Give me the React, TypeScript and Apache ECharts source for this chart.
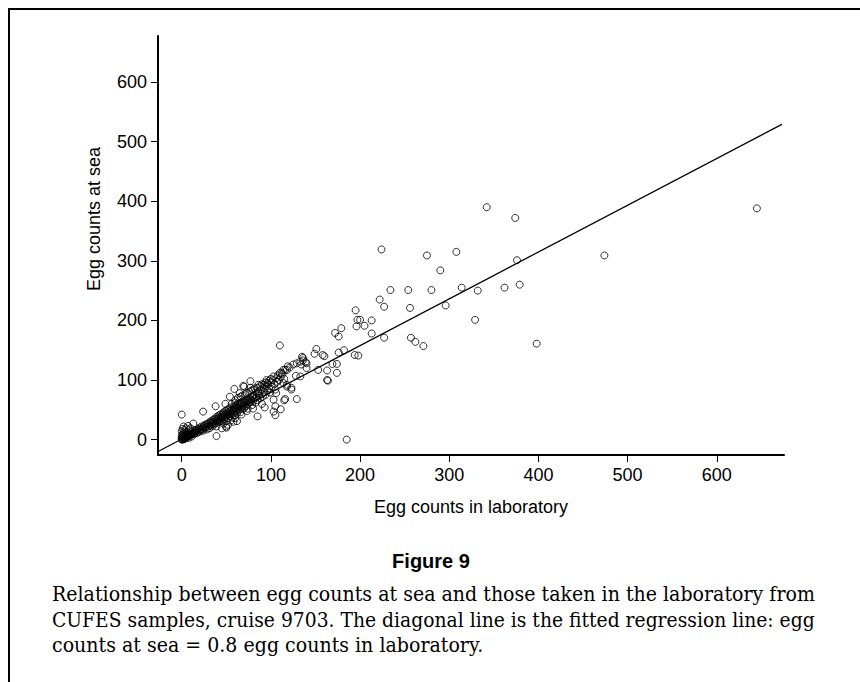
import React, { useEffect, useRef } from "react";
import * as echarts from "echarts";

// ---- data ----
const xTicks = [0, 100, 200, 300, 400, 500, 600];
const yTicks = [0, 100, 200, 300, 400, 500, 600];
const xAxisTitle = "Egg counts in laboratory";
const yAxisTitle = "Egg counts at sea";
const figureLabel = "Figure 9";
const captionLines = [
  "Relationship between egg counts at sea and those taken in the laboratory from",
  "CUFES samples, cruise 9703. The diagonal line is the fitted regression line: egg",
  "counts at sea = 0.8 egg counts in laboratory.",
];

// [lab count, sea count]
const farPoints: number[][] = [
  [645, 388], [474, 309], [398, 161], [342, 390], [374, 372], [376, 301], [379, 260],
  [362, 255], [332, 250], [329, 201], [314, 255], [308, 315], [296, 225], [290, 284],
  [280, 251], [275, 309], [271, 157], [262, 164], [257, 171], [256, 221], [254, 251],
  [234, 251], [227, 223], [227, 171], [224, 319], [222, 235], [213, 200], [213, 178],
  [205, 191], [200, 201], [198, 141], [197, 201], [196, 190], [195, 217], [194, 142],
  [185, 0],
];

const midPoints: number[][] = [
  [182, 150], [179, 187], [176, 173], [176, 146], [174, 127], [174, 112], [172, 179],
  [169, 127], [164, 99], [163, 116], [163, 100], [160, 140], [158, 142], [153, 117],
  [151, 152], [149, 144], [140, 128], [140, 120], [139, 130], [136, 133], [136, 137],
  [135, 139], [134, 126], [133, 106], [133, 131], [129, 128], [129, 68], [128, 107],
  [125, 126], [123, 87], [123, 84], [121, 121], [119, 123], [118, 92], [118, 117],
  [118, 89], [116, 117], [116, 68], [115, 66], [114, 95], [114, 117], [112, 112],
  [111, 51], [110, 158], [110, 112], [106, 78], [105, 84], [105, 56], [105, 41],
  [103, 106], [103, 67], [103, 47], [95, 100], [93, 54], [86, 92], [86, 78], [85, 39],
  [80, 73], [77, 98], [77, 87], [73, 67], [70, 89], [69, 90], [65, 78], [65, 61],
  [62, 31], [60, 66], [59, 85], [54, 72], [52, 25], [50, 22], [50, 20], [49, 60],
  [45, 19], [39, 22], [39, 6], [38, 56], [24, 47], [0, 42], [2, 22], [7, 23], [13, 27],
];

const upperBandPoints: number[][] = [
  [56, 60], [60, 62], [63, 70], [66, 72], [68, 74], [71, 76], [73, 78], [76, 80],
  [78, 82], [80, 84], [82, 86], [85, 87], [88, 90], [90, 93], [92, 92], [94, 96],
  [96, 95], [98, 99], [100, 102], [60, 36], [67, 42], [73, 48], [80, 52], [90, 60],
];

const densePoints: number[][] = [
  [0, 0], [0, 1], [1, 0], [1, 2], [2, 1], [0, 3], [2, 3], [3, 1], [3, 4], [1, 5], [4, 2],
  [4, 5], [5, 3], [2, 6], [5, 6], [6, 4], [0, 7], [6, 8], [7, 5], [3, 8], [7, 9], [8, 6],
  [8, 3], [1, 9], [9, 7], [9, 10], [10, 8], [4, 11], [10, 12], [11, 9], [2, 12], [11, 5],
  [12, 10], [6, 13], [12, 14], [13, 11], [0, 14], [14, 9], [14, 13], [3, 16], [15, 12],
  [8, 16], [15, 16], [16, 14], [1, 18], [17, 11], [17, 15], [5, 19], [18, 17], [10, 19],
  [19, 13], [19, 18],
  [20, 16], [20, 20], [21, 14], [22, 18], [22, 22], [23, 17], [24, 20], [24, 15], [25, 23],
  [26, 19], [26, 25], [27, 21], [28, 17], [28, 24], [29, 27], [30, 22], [30, 26], [31, 19],
  [31, 29], [32, 24], [33, 28], [33, 31], [34, 22], [34, 26], [35, 30], [35, 33], [36, 25],
  [36, 28], [37, 35], [38, 31], [38, 27], [39, 33], [39, 38], [40, 29], [40, 35], [41, 32],
  [41, 40], [42, 37], [42, 30], [43, 34], [43, 42], [44, 38], [44, 31], [45, 41], [45, 36],
  [46, 44], [46, 33], [47, 39], [47, 46], [47, 27], [48, 35], [48, 42], [49, 38], [49, 48],
  [50, 44], [50, 31], [51, 41], [51, 50], [52, 36], [52, 46], [53, 43], [53, 52], [54, 39],
  [54, 48], [55, 45], [55, 54], [55, 32], [56, 42], [56, 50], [57, 47], [57, 37], [58, 52],
  [58, 44], [58, 30], [59, 56], [59, 49], [60, 41], [60, 53], [61, 58], [61, 47], [62, 51],
  [62, 44], [63, 55], [63, 60], [64, 49], [64, 53], [65, 57], [66, 46], [66, 62], [67, 54],
  [67, 59], [68, 51], [69, 64], [69, 57], [70, 53], [70, 61], [71, 66], [72, 56], [72, 63],
  [73, 59], [74, 68], [74, 52], [75, 62], [75, 65],
  [76, 70], [77, 63], [78, 67], [79, 72], [79, 58], [80, 65], [81, 75], [82, 69], [83, 62],
  [84, 78], [84, 71], [85, 66], [86, 81], [87, 74], [88, 69], [89, 84], [90, 77], [91, 72],
  [92, 87], [93, 80], [94, 75], [95, 90], [96, 83], [97, 93], [98, 86], [99, 79], [100, 96],
  [101, 89], [102, 100], [104, 93], [106, 103], [107, 97], [108, 108], [109, 100],
  [111, 105], [113, 110], [115, 102],
];

// fitted regression line end points [lab, sea]
const fitLab = [-26, 673];
const fitSea = [-19.5, 529];

function measure(text: string, font: string): number {
  const ctx = document.createElement("canvas").getContext("2d");
  if (!ctx) return 1;
  ctx.font = font;
  return ctx.measureText(text).width;
}

export default function App() {
  const ref = useRef<HTMLDivElement>(null);

  useEffect(() => {
    if (!ref.current) return;
    const chart = echarts.init(ref.current, undefined, { renderer: "svg" });

    const captionFont = '20px "DejaVu Serif"';
    const captionWidth = 763;
    const s1 = captionWidth / measure(captionLines[0], captionFont);
    const s2 = captionWidth / measure(captionLines[1], captionFont);
    const scales = [s1, s2, s1];
    const captionY = [594.5, 620, 645.5];

    const points = [...densePoints, ...upperBandPoints, ...midPoints, ...farPoints];
    const fitData = fitLab.map((x, i) => [x, fitSea[i]]);

    const sans = '"Liberation Sans", Arial, sans-serif';

    chart.setOption({
      animation: false,
      backgroundColor: "#fff",
      grid: { left: 158, top: 36, right: 76, bottom: 227, containLabel: false },
      xAxis: {
        type: "value",
        min: -26.6,
        max: 675.4,
        axisLine: { show: true, onZero: false, lineStyle: { color: "#000", width: 2 } },
        axisTick: { show: true, length: 7, customValues: xTicks, lineStyle: { color: "#000", width: 1 } },
        axisLabel: {
          customValues: xTicks,
          color: "#000",
          fontSize: 18,
          fontFamily: sans,
          margin: 11,
          formatter: (v: number) => (v % 100 === 0 ? String(v) : ""),
        },
        splitLine: { show: false },
      },
      yAxis: {
        type: "value",
        min: -25.8,
        max: 677.2,
        axisLine: { show: true, onZero: false, lineStyle: { color: "#000", width: 2 } },
        axisTick: { show: true, length: 7, customValues: yTicks, lineStyle: { color: "#000", width: 1 } },
        axisLabel: {
          customValues: yTicks,
          color: "#000",
          fontSize: 18,
          fontFamily: sans,
          margin: 11,
          formatter: (v: number) => (v % 100 === 0 ? String(v) : ""),
        },
        splitLine: { show: false },
      },
      series: [
        {
          type: "scatter",
          data: points,
          symbol: "circle",
          symbolSize: 7,
          silent: true,
          itemStyle: { color: "transparent", borderColor: "#000", borderWidth: 1 },
          emphasis: { disabled: true },
        },
        {
          type: "line",
          data: fitData,
          showSymbol: false,
          silent: true,
          lineStyle: { color: "#000", width: 1.3 },
        },
      ],
      graphic: [
        { type: "line", shape: { x1: 9, y1: 9, x2: 860, y2: 9 }, style: { stroke: "#000", lineWidth: 2 } },
        { type: "line", shape: { x1: 9, y1: 8, x2: 9, y2: 682 }, style: { stroke: "#000", lineWidth: 2 } },
        {
          type: "text",
          x: 94,
          y: 219,
          rotation: Math.PI / 2,
          style: {
            text: yAxisTitle,
            fontSize: 18,
            fontFamily: sans,
            fill: "#000",
            align: "center",
            verticalAlign: "middle",
          },
        },
        {
          type: "text",
          x: 471,
          y: 507,
          style: {
            text: xAxisTitle,
            fontSize: 18,
            fontFamily: sans,
            fill: "#000",
            align: "center",
            verticalAlign: "middle",
          },
        },
        {
          type: "text",
          x: 431,
          y: 561,
          style: {
            text: figureLabel,
            fontSize: 20,
            fontWeight: "bold",
            fontFamily: sans,
            fill: "#000",
            align: "center",
            verticalAlign: "middle",
          },
        },
        ...captionLines.map((line, i) => ({
          type: "text",
          x: 52,
          y: captionY[i],
          scaleX: scales[i],
          style: {
            text: line,
            font: captionFont,
            fill: "#000",
            align: "left",
            verticalAlign: "middle",
          },
        })),
      ],
    });

    return () => chart.dispose();
  }, []);

  return (
    <div
      ref={ref}
      style={{ position: "fixed", left: 0, top: 0, width: 860, height: 682, background: "#fff" }}
    />
  );
}
